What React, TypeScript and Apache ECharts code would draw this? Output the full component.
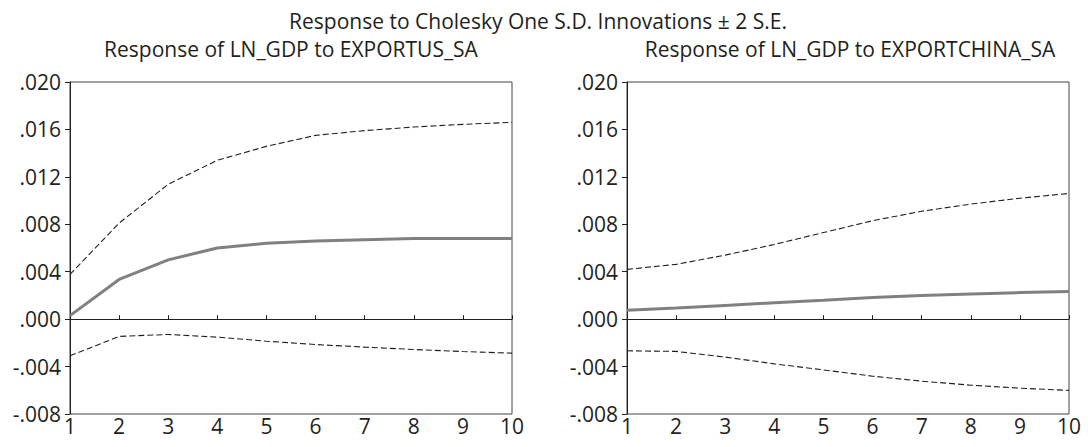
import React, { useEffect, useRef } from "react";
import * as echarts from "echarts";

const periods = [1, 2, 3, 4, 5, 6, 7, 8, 9, 10];

const usResponse = [0.0003, 0.00335, 0.005, 0.006, 0.0064, 0.0066, 0.0067, 0.0068, 0.0068, 0.0068];
const usUpper = [0.00377, 0.0081, 0.01137, 0.0134, 0.01457, 0.0155, 0.0159, 0.0162, 0.01643, 0.0166];
const usLower = [-0.00309, -0.00146, -0.00129, -0.00152, -0.00186, -0.00214, -0.00236, -0.00256, -0.00273, -0.00287];

const cnResponse = [0.00076, 0.00093, 0.00116, 0.00138, 0.0016, 0.00183, 0.002, 0.00213, 0.00224, 0.00234];
const cnUpper = [0.0042, 0.00462, 0.0054, 0.0063, 0.0073, 0.0083, 0.0091, 0.0097, 0.0102, 0.0106];
const cnLower = [-0.00267, -0.00272, -0.0032, -0.00377, -0.00428, -0.00481, -0.00523, -0.00557, -0.00582, -0.00601];

const mainTitle = "Response to Cholesky One S.D. Innovations \u00b1 2 S.E.";
const panelTitles = ["Response of LN_GDP to EXPORTUS_SA", "Response of LN_GDP to EXPORTCHINA_SA"];

const FONT = "Open Sans";
const FS = 21;
const TEXT = "#231f20";

const fmt = (v: number) => {
  const r = Math.round(v * 1000) / 1000;
  if (r === 0) return ".000";
  return r.toFixed(3).replace(/^(-?)0\./, "$1.");
};

const pairs = (ys: number[]) => periods.map((p, i) => [p, ys[i]]);

export default function App() {
  const ref = useRef<HTMLDivElement>(null);
  useEffect(() => {
    if (!ref.current) return;
    const chart = echarts.init(ref.current, undefined, { renderer: "svg" });
    const grids = [
      { left: 70, top: 82, width: 442, height: 332 },
      { left: 627, top: 82, width: 442, height: 332 },
    ];
    const panels = [
      [usResponse, usUpper, usLower],
      [cnResponse, cnUpper, cnLower],
    ];
    const series: any[] = [];
    panels.forEach((p, gi) => {
      series.push({
        type: "line",
        xAxisIndex: gi,
        yAxisIndex: gi,
        data: pairs(p[0]),
        symbol: "none",
        lineStyle: { color: "#808080", width: 3 },
        z: 3,
        markLine: {
          silent: true,
          symbol: "none",
          label: { show: false },
          lineStyle: { color: TEXT, width: 1, type: "solid" },
          data: [{ yAxis: 0 }],
        },
      });
      [p[1], p[2]].forEach((d) => {
        series.push({
          type: "line",
          xAxisIndex: gi,
          yAxisIndex: gi,
          data: pairs(d),
          symbol: "none",
          lineStyle: { color: TEXT, width: 1.1, type: [6, 3] },
          z: 2,
        });
      });
    });
    const titleStyle = { fontFamily: FONT, fontSize: FS, fontWeight: "normal", color: TEXT };
    chart.setOption({
      animation: false,
      backgroundColor: "#ffffff",
      title: [
        { text: mainTitle, left: 533, top: 5, textAlign: "center", textStyle: titleStyle },
        { text: panelTitles[0], left: 286, top: 33, textAlign: "center", textStyle: titleStyle },
        { text: panelTitles[1], left: 845, top: 33, textAlign: "center", textStyle: titleStyle },
      ],
      grid: grids.map((g) => ({ ...g, show: true, borderColor: "#444", borderWidth: 1, backgroundColor: "transparent" })),
      xAxis: [0, 1].map((i) => ({
        type: "value",
        gridIndex: i,
        min: 1,
        max: 10,
        interval: 1,
        axisLine: { show: true, lineStyle: { color: TEXT, width: 1 } },
        axisTick: { show: true, inside: true, length: 4, lineStyle: { color: TEXT } },
        axisLabel: { fontFamily: FONT, fontSize: FS, color: TEXT, margin: 1 },
        splitLine: { show: false },
      })),
      yAxis: [0, 1].map((i) => ({
        type: "value",
        gridIndex: i,
        min: -0.008,
        max: 0.02,
        interval: 0.004,
        axisLine: { show: true, lineStyle: { color: TEXT, width: 1 } },
        axisTick: { show: true, inside: false, length: 5, lineStyle: { color: TEXT } },
        axisLabel: { fontFamily: FONT, fontSize: FS, color: TEXT, margin: 9, formatter: fmt },
        splitLine: { show: false },
      })),
      series,
    });
    return () => chart.dispose();
  }, []);
  return (
    <div
      ref={ref}
      style={{ position: "absolute", left: 0, top: 0, width: 1088, height: 447 }}
    />
  );
}
